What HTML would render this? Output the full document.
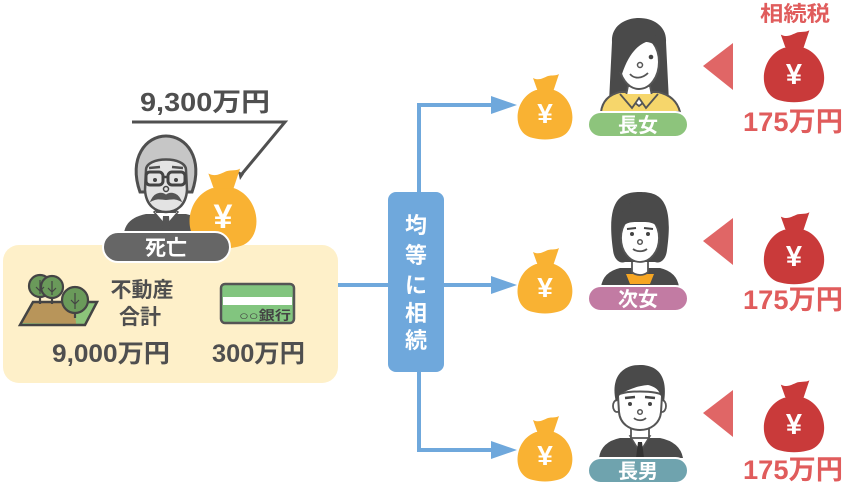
<!DOCTYPE html>
<html><head><meta charset="utf-8">
<style>
html,body{margin:0;padding:0;background:#fff;}
svg{display:block;}
text{font-family:"Liberation Sans","Noto Sans CJK JP",sans-serif;font-weight:bold;}
</style></head>
<body>
<svg width="846" height="486" viewBox="0 0 846 486" xmlns="http://www.w3.org/2000/svg">
<defs>
  <g id="bag">
    <path d="M -7,-20 L -12,-34 C -6,-31 -2,-34 3,-36 C 7,-37 11,-36 14,-38 L 8,-20 Z"/>
    <path d="M -9,-22 C -32,-14 -34,22 -12,26 C -4,28 4,28 12,26 C 34,22 32,-14 9,-22 Z"/>
  </g>
</defs>

<!-- Yellow asset box -->
<rect x="3" y="245" width="335" height="138" rx="16" fill="#fef0c9"/>

<!-- 9,300 label and leader -->
<text x="140" y="111" font-size="26" fill="#4f4f4f" textLength="130" lengthAdjust="spacingAndGlyphs">9,300万円</text>
<path d="M132,122 L285,122 L241,175" fill="none" stroke="#505050" stroke-width="3"/>
<path d="M238,171 L244,174 L240,180 Z" fill="#505050"/>

<!-- Old man -->
<path d="M124,233 Q126,218 146,214 L186,214 Q205,218 207,233 Z" fill="#555"/>
<path d="M154,212 L166,226 L178,212 L172,208 L160,208 Z" fill="#fff" stroke="#555" stroke-width="1.5"/>
<path d="M163,216 L169,216 L170,232 L162,232 Z" fill="#555"/>
<rect x="157" y="198" width="18" height="14" fill="#e0e0e0" stroke="#555" stroke-width="2"/>
<path d="M140,192 C128,158 146,136 166,136 C186,136 204,158 192,192 Z" fill="#c6c6c6" stroke="#4f4f4f" stroke-width="3"/>
<path d="M146,170 C146,156 186,156 186,170 L187,190 C186,206 176,212 166,212 C156,212 146,206 145,190 Z" fill="#e3e3e3" stroke="#4f4f4f" stroke-width="2.5"/>
<path d="M149,168 L160,167 M172,167 L183,168" stroke="#4f4f4f" stroke-width="2.5"/>
<rect x="146" y="172" width="17" height="13" rx="4" fill="none" stroke="#444" stroke-width="3"/>
<rect x="168" y="172" width="17" height="13" rx="4" fill="none" stroke="#444" stroke-width="3"/>
<path d="M163,177 L168,177" stroke="#444" stroke-width="2.5"/>
<circle cx="155" cy="180" r="2" fill="#444"/><circle cx="176" cy="180" r="2" fill="#444"/>
<circle cx="166" cy="189" r="2.5" fill="none" stroke="#444" stroke-width="1.5"/>
<path d="M152,200 C156,192 163,193 166,196 C169,193 176,192 180,200 C174,197 170,199 166,199 C162,199 158,197 152,200 Z" fill="#555" stroke="#555" stroke-width="2"/>

<!-- big orange bag -->
<g transform="translate(223,215) scale(1.22)" fill="#f9b233"><use href="#bag"/></g>
<text x="223" y="228" font-size="34" fill="#fff" text-anchor="middle">¥</text>

<!-- 死亡 pill -->
<rect x="103" y="232" width="127" height="30" rx="15" fill="#666" stroke="#fff" stroke-width="2"/>
<text x="166" y="255" font-size="21" fill="#fff" text-anchor="middle">死亡</text>

<!-- trees / land icon -->
<path d="M20,325 L33,302 L97,302 L85,325 Z" fill="#8cc47a"/>
<path d="M22,323 L34,303 L60,303 C70,306 76,314 76,324 Z" fill="#b8955a"/>
<path d="M20,325 L33,302 L97,302 L85,325 Z" fill="none" stroke="#444" stroke-width="2.5"/>
<g stroke="#444" stroke-width="2.2" fill="#6a9a5a">
  <line x1="40" y1="290" x2="40" y2="304"/><line x1="52" y1="290" x2="52" y2="304"/>
  <circle cx="40" cy="286" r="11"/>
  <circle cx="52" cy="287" r="11"/>
  <line x1="75" y1="305" x2="75" y2="318"/>
  <circle cx="75" cy="300" r="13"/>
</g>
<g stroke="#444" stroke-width="1.2" fill="none">
  <path d="M40,280 L40,294 M36,287 L40,291 L44,287"/>
  <path d="M52,281 L52,295 M48,288 L52,292 L56,288"/>
  <path d="M75,293 L75,309 M71,300 L75,304 L79,300"/>
</g>

<text x="142" y="297" font-size="21" fill="#4f4f4f" text-anchor="middle">不動産</text>
<text x="140" y="324" font-size="21" fill="#4f4f4f" text-anchor="middle">合計</text>
<text x="52" y="362" font-size="25" fill="#4f4f4f" textLength="118" lengthAdjust="spacingAndGlyphs">9,000万円</text>

<!-- bank card -->
<rect x="221" y="284" width="73" height="39" rx="4" fill="#82c57f" stroke="#555" stroke-width="2.5"/>
<rect x="223" y="297" width="69" height="8" fill="#fff"/>
<text x="291" y="320" font-size="13" fill="#444" text-anchor="end" textLength="52" lengthAdjust="spacingAndGlyphs">○○銀行</text>
<text x="212" y="362" font-size="25" fill="#4f4f4f" textLength="93" lengthAdjust="spacingAndGlyphs">300万円</text>

<!-- Blue connectors -->
<g stroke="#6fa8dc" stroke-width="4" fill="none">
  <path d="M338,285 L390,285"/>
  <path d="M442,285 L495,285"/>
  <path d="M419,194 L419,105 L495,105"/>
  <path d="M419,370 L419,450 L495,450"/>
</g>
<g fill="#6fa8dc">
  <path d="M491,96 L517,105 L491,114 Z"/>
  <path d="M491,276 L517,285 L491,294 Z"/>
  <path d="M491,441 L517,450 L491,459 Z"/>
</g>
<rect x="388" y="192" width="56" height="180" rx="8" fill="#6fa8dc"/>
<g font-size="22" fill="#fff" text-anchor="middle">
  <text x="416" y="233">均</text>
  <text x="416" y="263">等</text>
  <text x="416" y="293">に</text>
  <text x="416" y="321">相</text>
  <text x="416" y="348">続</text>
</g>

<!-- orange bags right -->
<g fill="#f9b233">
  <g transform="translate(545,112)"><use href="#bag"/></g>
  <g transform="translate(545,286)"><use href="#bag"/></g>
  <g transform="translate(545,454)"><use href="#bag"/></g>
</g>
<g font-size="28" fill="#fff" text-anchor="middle">
  <text x="545" y="123">¥</text>
  <text x="545" y="297">¥</text>
  <text x="545" y="465">¥</text>
</g>

<!-- Woman 1 (長女) -->
<path d="M612,42 C610,10 668,10 666,42 L669,102 L609,102 Z" fill="#4a4a4a"/>
<path d="M601,112 Q603,96 620,92 L658,92 Q676,96 680,112 Z" fill="#f6d66b" stroke="#555" stroke-width="2"/>
<path d="M628,86 L650,86 L652,96 L639,106 L626,96 Z" fill="#fff" stroke="#555" stroke-width="1.8"/>
<path d="M620,94 L632,108 L639,98 L646,108 L658,94" fill="#f6d66b" stroke="#555" stroke-width="1.8"/>
<ellipse cx="639" cy="62" rx="20" ry="27" fill="#fff" stroke="#555" stroke-width="2"/>
<path d="M617,70 C612,36 628,26 646,30 C656,33 662,42 660,52 C656,44 650,42 646,42 C636,46 628,56 622,74 Z" fill="#4a4a4a"/>
<circle cx="651" cy="57" r="2.3" fill="#444"/>
<circle cx="640" cy="65" r="2.5" fill="none" stroke="#555" stroke-width="1.5"/>
<path d="M630,74 C634,79 642,79 648,73" fill="none" stroke="#555" stroke-width="1.8"/>
<rect x="588" y="112" width="100" height="25" rx="12.5" fill="#8dc47c" stroke="#fff" stroke-width="2"/>
<text x="638" y="132" font-size="20" fill="#fff" text-anchor="middle">長女</text>

<!-- Woman 2 (次女) -->
<path d="M601,287 Q603,272 620,268 L660,268 Q677,272 679,287 Z" fill="#4a4a4a"/>
<path d="M626,274 L654,274 L650,284 L630,284 Z" fill="#f6a623"/>
<path d="M632,258 L648,258 L648,272 C644,276 636,276 632,272 Z" fill="#fff" stroke="#555" stroke-width="1.8"/>
<path d="M613,250 C606,200 620,192 640,192 C660,192 674,200 667,250 C666,260 660,264 655,262 L625,262 C620,264 614,260 613,250 Z" fill="#4a4a4a"/>
<ellipse cx="640" cy="238" rx="19" ry="24" fill="#fff" stroke="#555" stroke-width="1.8"/>
<path d="M619,232 C618,208 630,200 640,200 C652,200 662,208 661,232 C656,222 650,222 640,222 C630,222 624,222 619,232 Z" fill="#4a4a4a"/>
<path d="M627,229 L636,228 M644,228 L653,229" stroke="#444" stroke-width="2"/>
<circle cx="632" cy="234" r="2" fill="#444"/><circle cx="648" cy="234" r="2" fill="#444"/>
<circle cx="640" cy="242" r="2.3" fill="none" stroke="#555" stroke-width="1.5"/>
<path d="M633,249 C637,252 643,252 647,249" fill="none" stroke="#555" stroke-width="1.8"/>
<rect x="588" y="286" width="100" height="25" rx="12.5" fill="#c27ba3" stroke="#fff" stroke-width="2"/>
<text x="638" y="306" font-size="20" fill="#fff" text-anchor="middle">次女</text>

<!-- Man (長男) -->
<path d="M599,458 Q601,442 620,438 L660,438 Q680,442 683,458 Z" fill="#4a4a4a"/>
<path d="M630,436 L640,452 L650,436 Z" fill="#fff" stroke="#555" stroke-width="1.5"/>
<path d="M638,442 L642,442 L644,458 L636,458 Z" fill="#333"/>
<path d="M631,420 L649,420 L649,438 L631,438 Z" fill="#fff" stroke="#555" stroke-width="1.8"/>
<ellipse cx="617" cy="406" rx="4" ry="6" fill="#fff" stroke="#555" stroke-width="1.8"/>
<ellipse cx="662" cy="406" rx="4" ry="6" fill="#fff" stroke="#555" stroke-width="1.8"/>
<path d="M618,396 C618,390 662,390 662,396 L661,412 C660,424 650,430 640,430 C630,430 620,424 619,412 Z" fill="#fff" stroke="#555" stroke-width="2"/>
<path d="M616,402 C610,378 622,364 642,365 C658,366 668,376 664,402 L660,394 C658,388 652,386 648,385 C636,386 628,390 620,394 Z" fill="#4a4a4a"/>
<path d="M625,398 L635,397 M645,397 L655,398" stroke="#444" stroke-width="2.5"/>
<circle cx="630" cy="404" r="2" fill="#444"/><circle cx="650" cy="404" r="2" fill="#444"/>
<circle cx="640" cy="412" r="2.3" fill="none" stroke="#555" stroke-width="1.5"/>
<path d="M634,418 C637,421 643,421 646,418" fill="none" stroke="#555" stroke-width="1.8"/>
<rect x="588" y="458" width="100" height="25" rx="12.5" fill="#6fa3ae" stroke="#fff" stroke-width="2"/>
<text x="638" y="478" font-size="20" fill="#fff" text-anchor="middle">長男</text>

<!-- Red triangles -->
<g fill="#e06666">
  <path d="M733,43 L733,90 L703,66 Z"/>
  <path d="M733,218 L733,265 L703,241 Z"/>
  <path d="M733,390 L733,437 L703,413 Z"/>
</g>

<!-- Tax -->
<text x="795" y="21" font-size="21" fill="#e05c5c" text-anchor="middle" textLength="70" lengthAdjust="spacingAndGlyphs">相続税</text>
<g fill="#c93a3a">
  <g transform="translate(794,72) scale(1.1)"><use href="#bag"/></g>
  <g transform="translate(794,254) scale(1.1)"><use href="#bag"/></g>
  <g transform="translate(794,422) scale(1.1)"><use href="#bag"/></g>
</g>
<g font-size="29" fill="#fff" text-anchor="middle">
  <text x="794" y="84">¥</text>
  <text x="794" y="266">¥</text>
  <text x="794" y="434">¥</text>
</g>
<g font-size="27" fill="#e05c5c">
  <text x="743" y="131" textLength="100" lengthAdjust="spacingAndGlyphs">175万円</text>
  <text x="743" y="309" textLength="100" lengthAdjust="spacingAndGlyphs">175万円</text>
  <text x="743" y="479" textLength="100" lengthAdjust="spacingAndGlyphs">175万円</text>
</g>
</svg>
</body></html>
